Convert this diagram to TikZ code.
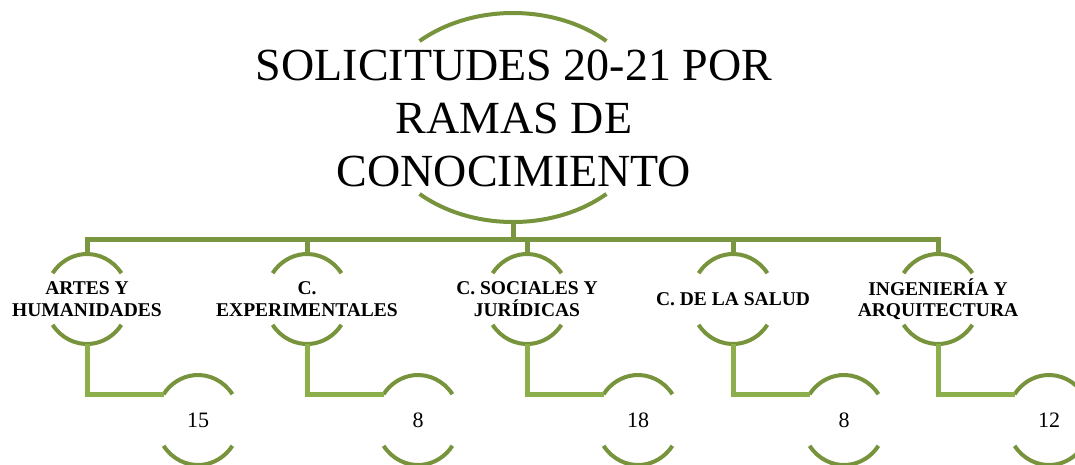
\documentclass[tikz,border=0pt]{standalone}
\usepackage{fontspec}
\setmainfont{Liberation Serif}
\usetikzlibrary{calc,shapes.geometric}
\definecolor{arcgreen}{HTML}{77933C}
\definecolor{bargreen}{HTML}{7A9641}
\definecolor{linkgreen}{HTML}{8DAF4B}
\tikzset{
  bigel/.style={ellipse,inner sep=0pt,minimum width=274pt,minimum height=209pt},
  smel/.style={ellipse,inner sep=0pt,minimum width=84pt,minimum height=90pt},
  arcst/.style={draw=arcgreen,line width=4pt},
  barst/.style={draw=bargreen,line width=5pt},
  linkst/.style={draw=linkgreen,line width=5pt},
  titletxt/.style={align=center,font=\fontsize{46}{53}\selectfont,inner sep=0pt},
  lbltxt/.style={align=center,font=\bfseries\fontsize{19.5}{21.5}\selectfont,inner sep=0pt},
  numtxt/.style={font=\fontsize{22}{26}\selectfont,inner sep=0pt}
}
\begin{document}
\begin{tikzpicture}[x=1pt,y=1pt]
\useasboundingbox (0,0) rectangle (1075,-464);
% top node
\node[bigel] (t0) at (513,-117.5) {};
\node[titletxt] (t0txt) at (514,-118) {SOLICITUDES 20-21 POR\\RAMAS DE\\CONOCIMIENTO};
\draw[arcst] (t0.center) ++(47:137 and 104.5) arc[start angle=47,end angle=133,x radius=137,y radius=104.5];
\draw[arcst] (t0.center) ++(227:137 and 104.5) arc[start angle=227,end angle=313,x radius=137,y radius=104.5];
% children
\node[smel] (c1) at (87,-299) {};
\node[smel] (c2) at (307,-299) {};
\node[smel] (c3) at (527,-299) {};
\node[smel] (c4) at (733,-299) {};
\node[smel] (c5) at (938,-299) {};
\node[lbltxt] (c1txt) at (c1) {ARTES Y\\HUMANIDADES};
\node[lbltxt] (c2txt) at (c2) {C.\\EXPERIMENTALES};
\node[lbltxt] (c3txt) at (c3) {C. SOCIALES Y\\JURÍDICAS};
\node[lbltxt] (c4txt) at (c4) {C. DE LA SALUD};
\node[lbltxt] (c5txt) at (c5) {INGENIERÍA Y\\ARQUITECTURA};
% grandchildren
\node[smel] (g1) at (198,-420) {};
\node[smel] (g2) at (418,-420) {};
\node[smel] (g3) at (638,-420) {};
\node[smel] (g4) at (844,-420) {};
\node[smel] (g5) at (1049,-420) {};
\node[numtxt] (g1txt) at (g1) {15};
\node[numtxt] (g2txt) at (g2) {8};
\node[numtxt] (g3txt) at (g3) {18};
\node[numtxt] (g4txt) at (g4) {8};
\node[numtxt] (g5txt) at (g5) {12};
\foreach \n in {c1,c2,c3,c4,c5,g1,g2,g3,g4,g5}{
  \draw[arcst] (\n.center) ++(35:42 and 45) arc[start angle=35,end angle=145,x radius=42,y radius=45];
  \draw[arcst] (\n.center) ++(215:42 and 45) arc[start angle=215,end angle=325,x radius=42,y radius=45];
}
% connectors from root
\coordinate (hub) at (513,-239);
\draw[barst] (t0.south) -- (hub);
\draw[barst] (c1.north) |- (hub) -| (c5.north);
\foreach \n in {c2,c3,c4}{
  \draw[barst] (\n.north) -- (\n.north |- hub);
}
% connectors child -> grandchild
\foreach \i in {1,...,5}{
  \coordinate (w\i) at ($(g\i.center)+(145:42 and 45)$);
  \draw[linkst] (c\i.south) |- (w\i);
}
\end{tikzpicture}
\end{document}
